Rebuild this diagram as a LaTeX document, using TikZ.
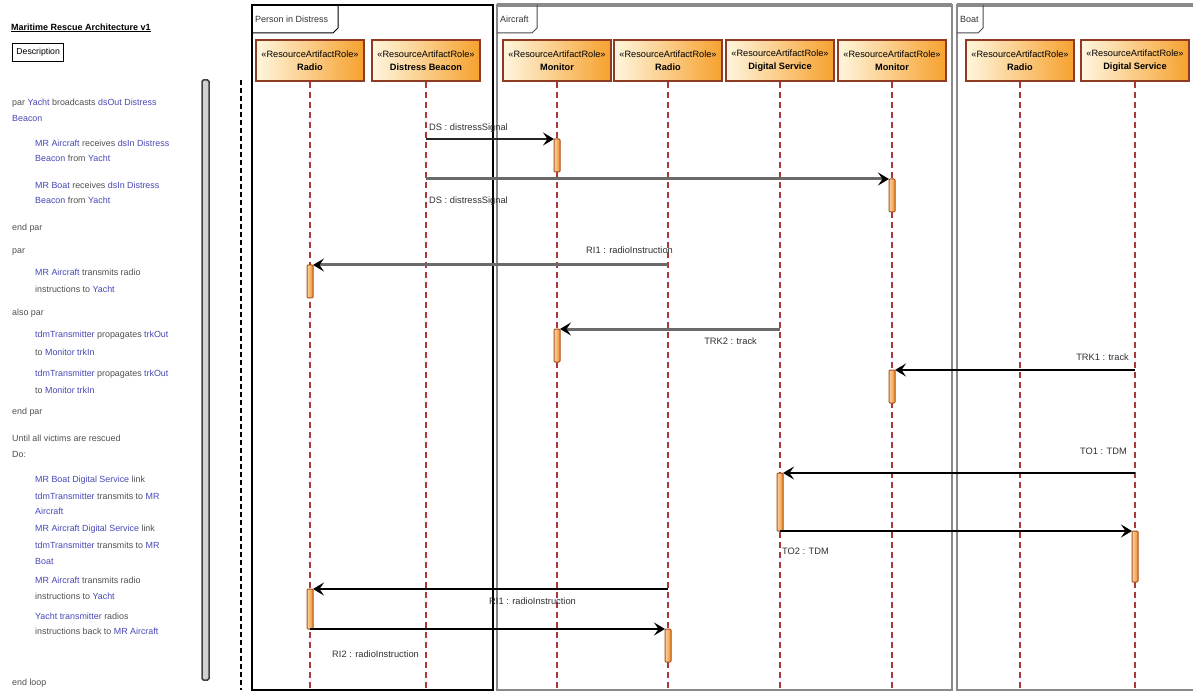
\documentclass[tikz,border=0pt]{standalone}
\usepackage{fontspec}
\setmainfont{Liberation Sans}
\usetikzlibrary{arrows.meta}
\definecolor{hdrL}{HTML}{FFF6DE}
\definecolor{hdrR}{HTML}{F6A12E}
\definecolor{hdrB}{HTML}{8E3B22}
\definecolor{lifeC}{HTML}{A83A3A}
\definecolor{actL}{HTML}{FCD7A6}
\definecolor{actR}{HTML}{EE8A2A}
\definecolor{actB}{HTML}{A8501C}
\definecolor{frameG}{HTML}{8A8A8A}
\definecolor{linkB}{HTML}{4848B8}
\definecolor{kwG}{HTML}{505050}
\definecolor{msgG}{HTML}{6A6A6A}
\definecolor{lblC}{HTML}{303030}
\newcommand\lnk[1]{\textcolor{linkB}{#1}}
\newcommand\kwd[1]{\textcolor{kwG}{#1}}
\begin{document}
\begin{tikzpicture}[x=1pt,y=-1pt,
  hdr/.style={draw=hdrB, line width=1.4pt, left color=hdrL, right color=hdrR,
    minimum width=108pt, minimum height=41pt, inner sep=1pt, align=center,
    font=\fontsize{9.2}{13}\selectfont},
  lifeline/.style={draw=lifeC, line width=1.4pt, dash pattern=on 6pt off 4pt},
  act/.style={draw=actB, line width=1pt, left color=actL, right color=actR,
    minimum width=6pt, inner sep=0pt, outer sep=0pt, rounded corners=1pt},
  tip/.style={-{Stealth[length=11pt,width=13pt,inset=4.5pt,black]}},
  msgK/.style={tip, draw=black, line width=2pt},
  msgG/.style={tip, draw=msgG, line width=3pt},
  lbl/.style={inner sep=0pt, text=lblC, font=\fontsize{9.3}{11}\selectfont},
  ltxt/.style={anchor=west, inner sep=0pt, font=\fontsize{8.9}{10}\selectfont},
  tabtxt/.style={anchor=west, inner sep=0pt, text=black!80, font=\fontsize{9}{10}\selectfont}
]
\useasboundingbox[fill=white] (0,0) rectangle (1193,692);

% ---------- left description panel ----------
\node[anchor=west, inner sep=0pt, font=\bfseries\fontsize{9}{10}\selectfont] (title) at (11,28)
  {\underline{Maritime Rescue Architecture v1}};
\node[draw, line width=1.3pt, anchor=north west, minimum width=51pt, minimum height=18pt,
  inner sep=1pt, font=\fontsize{8.7}{10}\selectfont] (desc) at (12,43) {Description};

\node[ltxt] (t1) at (12,103) {\kwd{par} \lnk{Yacht} \kwd{broadcasts} \lnk{dsOut Distress}};
\node[ltxt] (t2) at (12,118) {\lnk{Beacon}};
\node[ltxt] (t3) at (35,143) {\lnk{MR Aircraft} \kwd{receives} \lnk{dsIn Distress}};
\node[ltxt] (t4) at (35,158) {\lnk{Beacon} \kwd{from} \lnk{Yacht}};
\node[ltxt] (t5) at (35,185) {\lnk{MR Boat} \kwd{receives} \lnk{dsIn Distress}};
\node[ltxt] (t6) at (35,200) {\lnk{Beacon} \kwd{from} \lnk{Yacht}};
\node[ltxt] (t7) at (12,228) {\kwd{end par}};
\node[ltxt] (t8) at (12,252) {\kwd{par}};
\node[ltxt] (t9) at (35,272) {\lnk{MR Aircraft} \kwd{transmits radio}};
\node[ltxt] (t10) at (35,289) {\kwd{instructions to} \lnk{Yacht}};
\node[ltxt] (t11) at (12,313) {\kwd{also par}};
\node[ltxt] (t12) at (35,335) {\lnk{tdmTransmitter} \kwd{propagates} \lnk{trkOut}};
\node[ltxt] (t13) at (35,352) {\kwd{to} \lnk{Monitor trkIn}};
\node[ltxt] (t14) at (35,374) {\lnk{tdmTransmitter} \kwd{propagates} \lnk{trkOut}};
\node[ltxt] (t15) at (35,390) {\kwd{to} \lnk{Monitor trkIn}};
\node[ltxt] (t16) at (12,412) {\kwd{end par}};
\node[ltxt] (t17) at (12,438) {\kwd{Until all victims are rescued}};
\node[ltxt] (t18) at (12,454) {\kwd{Do:}};
\node[ltxt] (t19) at (35,480) {\lnk{MR Boat Digital Service} \kwd{link}};
\node[ltxt] (t20) at (35,496) {\lnk{tdmTransmitter} \kwd{transmits to} \lnk{MR}};
\node[ltxt] (t21) at (35,511) {\lnk{Aircraft}};
\node[ltxt] (t22) at (35,529) {\lnk{MR Aircraft Digital Service} \kwd{link}};
\node[ltxt] (t23) at (35,545) {\lnk{tdmTransmitter} \kwd{transmits to} \lnk{MR}};
\node[ltxt] (t24) at (35,561) {\lnk{Boat}};
\node[ltxt] (t25) at (35,580) {\lnk{MR Aircraft} \kwd{transmits radio}};
\node[ltxt] (t26) at (35,596) {\kwd{instructions to} \lnk{Yacht}};
\node[ltxt] (t27) at (35,616) {\lnk{Yacht transmitter} \kwd{radios}};
\node[ltxt] (t28) at (35,631) {\kwd{instructions back to} \lnk{MR Aircraft}};
\node[ltxt] (t29) at (12,683) {\kwd{end loop}};

\node[draw=black!75, fill=black!18, line width=1.5pt, rounded corners=1.5pt,
  minimum width=7pt, minimum height=600pt, inner sep=0pt] (bar) at (205.5,380) {};
\coordinate (dT) at (241,80);
\coordinate (dB) at (241,690);
\draw[black, line width=2pt, dash pattern=on 5pt off 3pt] (dT) -- (dB);

% ---------- frames ----------
\draw[black, line width=1.3pt] (252,5) rectangle (493,690);
\draw[black, line width=1pt] (252,33) -- (333,33) -- (338,28) -- (338,5);
\node[tabtxt] (tabP) at (255,19) {Person in Distress};

\draw[frameG, line width=1.6pt] (497,5) rectangle (952,690);
\draw[frameG, line width=3.5pt] (497,5) -- (952,5);
\draw[black!70, line width=1pt] (497,33) -- (532,33) -- (537,28) -- (537,5);
\node[tabtxt] (tabA) at (500,19) {Aircraft};

\draw[frameG, line width=1.6pt] (1196,690) -- (957,690) -- (957,5) -- (1196,5);
\draw[frameG, line width=3.5pt] (957,5) -- (1196,5);
\draw[black!70, line width=1pt] (957,33) -- (978,33) -- (983,28) -- (983,5);
\node[tabtxt] (tabB) at (960,19) {Boat};

% ---------- lifeline heads ----------
\node[hdr] (hRadioP) at (310,60.5) {«ResourceArtifactRole»\\{\bfseries Radio}};
\node[hdr] (hBeacon) at (426,60.5) {«ResourceArtifactRole»\\{\bfseries Distress Beacon}};
\node[hdr] (hMonA) at (557,60.5) {«ResourceArtifactRole»\\{\bfseries Monitor}};
\node[hdr] (hRadioA) at (668,60.5) {«ResourceArtifactRole»\\{\bfseries Radio}};
\node[hdr] (hDSA) at (780,60.5) {«ResourceArtifactRole»\\{\bfseries Digital Service}};
\node[hdr] (hMonA2) at (892,60.5) {«ResourceArtifactRole»\\{\bfseries Monitor}};
\node[hdr] (hRadioB) at (1020,60.5) {«ResourceArtifactRole»\\{\bfseries Radio}};
\node[hdr] (hDSB) at (1135,60.5) {«ResourceArtifactRole»\\{\bfseries Digital Service}};

\coordinate (eRadioP) at (310,690);
\coordinate (eBeacon) at (426,690);
\coordinate (eMonA) at (557,690);
\coordinate (eRadioA) at (668,690);
\coordinate (eDSA) at (780,690);
\coordinate (eMonA2) at (892,690);
\coordinate (eRadioB) at (1020,690);
\coordinate (eDSB) at (1135,690);
\foreach \n in {RadioP,Beacon,MonA,RadioA,DSA,MonA2,RadioB,DSB}
  \draw[lifeline] (h\n.south) -- (e\n);

% ---------- activations ----------
\node[act, minimum height=33pt] (a1) at (557,155.5) {};
\node[act, minimum height=33pt] (a2) at (892,195.5) {};
\node[act, minimum height=33pt] (a3) at (310,281.5) {};
\node[act, minimum height=33pt] (a4) at (557,345.5) {};
\node[act, minimum height=33pt] (a5) at (892,386.5) {};
\node[act, minimum height=58pt] (a6) at (780,502) {};
\node[act, minimum height=51pt] (a7) at (1135,556.5) {};
\node[act, minimum height=40pt] (a8) at (310,609) {};
\node[act, minimum height=33pt] (a9) at (668,645.5) {};

% ---------- messages ----------
\coordinate (s1) at (426,139);
\coordinate (s2) at (426,179);
\coordinate (s3) at (668,265);
\coordinate (s4) at (780,329);
\coordinate (s5) at (1135,370);
\coordinate (s6) at (1135,473);
\coordinate (s8) at (668,589);

\draw[msgK, draw=black!85] (s1) -- (s1 -| a1.west);
\draw[msgG] (s2) -- (s2 -| a2.west);
\draw[msgG] (s3) -- (s3 -| a3.east);
\draw[msgG] (s4) -- (s4 -| a4.east);
\draw[msgK] (s5) -- (s5 -| a5.east);
\draw[msgK] (s6) -- (s6 -| a6.east);
\draw[msgK] (a6.south) -- (a6.south -| a7.west);
\draw[msgK] (s8) -- (s8 -| a8.east);
\draw[msgK] (a8.south) -- (a8.south -| a9.west);

\node[lbl, anchor=west] (m1) at (429,128) {DS : distressSignal};
\node[lbl, anchor=west] (m2) at (429,201) {DS : distressSignal};
\node[lbl, anchor=west] (m3) at (586,250) {RI1 : radioInstruction};
\node[lbl, anchor=east] (m4) at (757,341) {TRK2 : track};
\node[lbl, anchor=east] (m5) at (1129,357) {TRK1 : track};
\node[lbl, anchor=east] (m6) at (1127,451) {TO1 : TDM};
\node[lbl, anchor=west] (m7) at (782,551) {TO2 : TDM};
\node[lbl, anchor=west] (m8) at (489,601) {RI1 : radioInstruction};
\node[lbl, anchor=west] (m9) at (332,654) {RI2 : radioInstruction};
\end{tikzpicture}
\end{document}
